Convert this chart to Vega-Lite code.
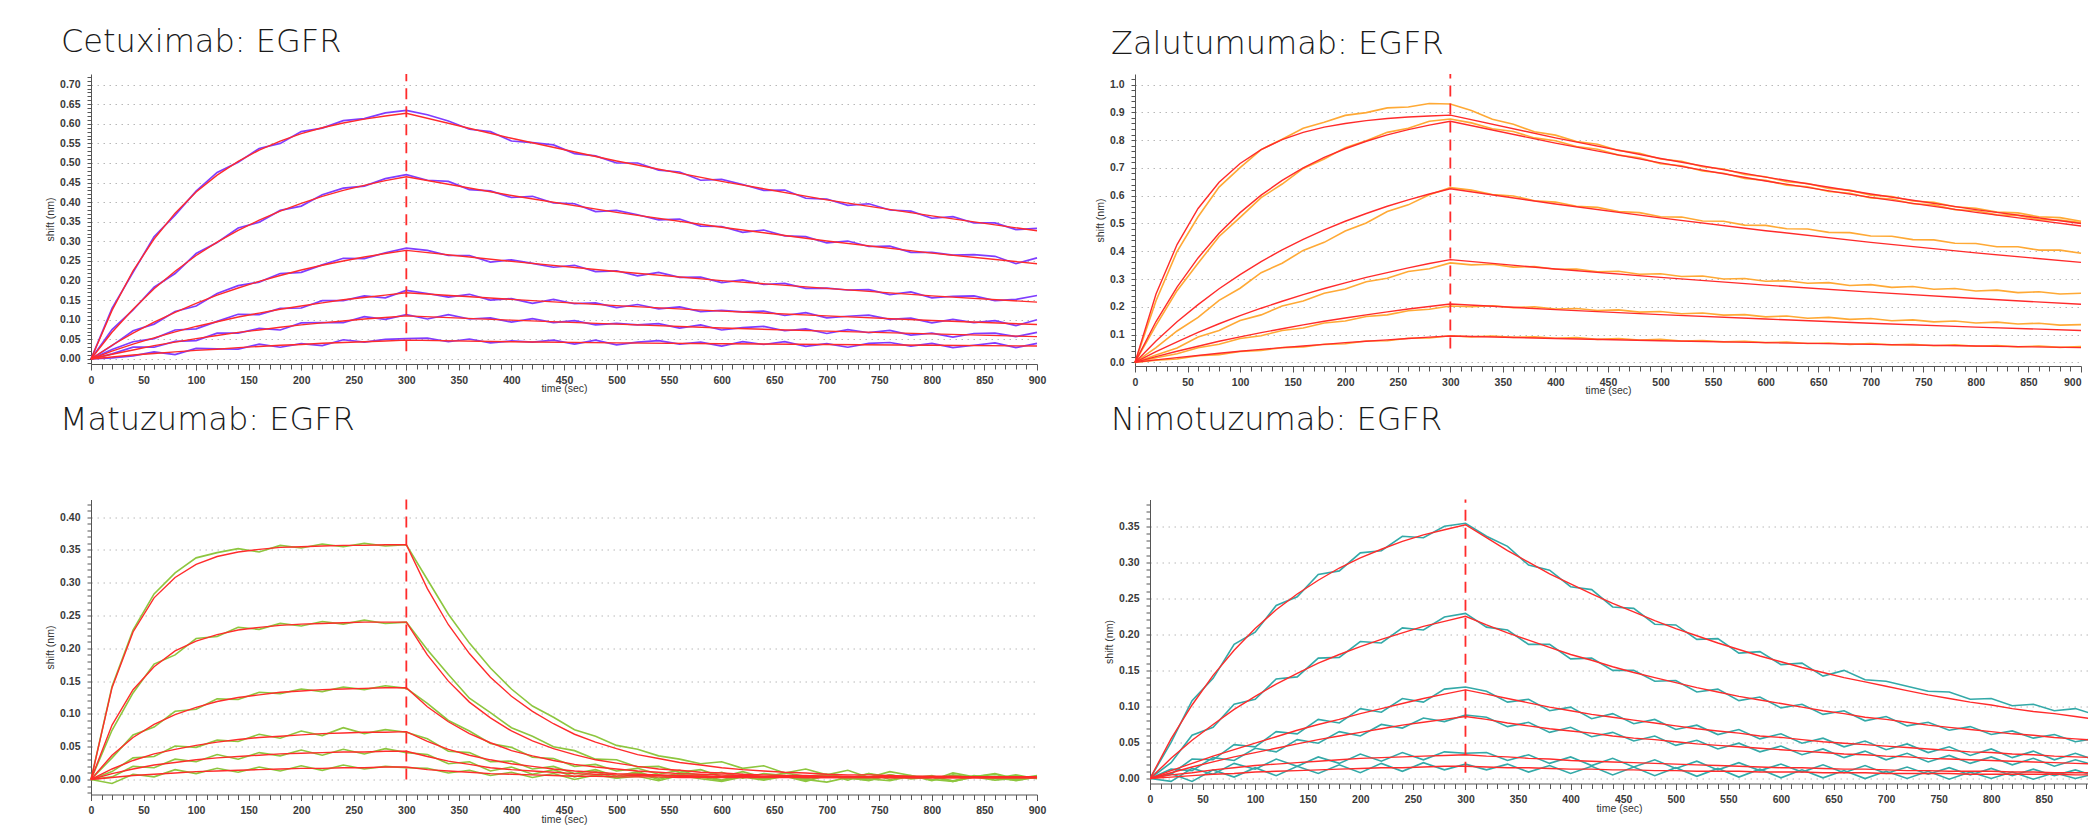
{
"$schema":"https://vega.github.io/schema/vega-lite/v6.json",
"background":"white",
"padding":{"left":45,"top":26,"right":0,"bottom":0},
"config":{
"view":{"stroke":null},
"axis":{"labelFont":"Liberation Sans","labelFontSize":10.5,"labelFontWeight":"bold","labelColor":"#3a3a3a","titleFont":"Liberation Sans","titleFontSize":10.5,"titleFontWeight":"normal","titleColor":"#333","domainColor":"#555","tickColor":"#555","gridColor":"#b8b8b8","gridDash":[1.5,4.5],"labelOverlap":false,"labelFlush":false},
"axisY":{"tickSize":4,"labelPadding":7,"titlePadding":4},
"axisX":{"labelPadding":5,"titlePadding":-2,"grid":false},
"title":{"font":"DejaVu Sans","fontSize":32,"fontWeight":200,"color":"#1a1a1a","anchor":"start","frame":"group","baseline":"alphabetic"}
},
"datasets":{
"c":[
{"s":1,"t":0,"y":0,"f":0},{"s":1,"t":20,"y":0.129,"f":0.124},{"s":1,"t":40,"y":0.221,"f":0.225},{"s":1,"t":60,"y":0.312,"f":0.306},{"s":1,"t":80,"y":0.367,"f":0.372},{"s":1,"t":100,"y":0.428,"f":0.426},{"s":1,"t":120,"y":0.476,"f":0.469},{"s":1,"t":140,"y":0.502,"f":0.504},{"s":1,"t":160,"y":0.537,"f":0.533},{"s":1,"t":180,"y":0.55,"f":0.556},{"s":1,"t":200,"y":0.58,"f":0.575},{"s":1,"t":220,"y":0.589,"f":0.59},{"s":1,"t":240,"y":0.608,"f":0.602},{"s":1,"t":260,"y":0.613,"f":0.612},{"s":1,"t":280,"y":0.628,"f":0.62},{"s":1,"t":300,"y":0.634,"f":0.627},{"s":1,"t":320,"y":0.623},{"s":1,"t":340,"y":0.607},{"s":1,"t":360,"y":0.586},{"s":1,"t":380,"y":0.58},{"s":1,"t":400,"y":0.556,"f":0.563},{"s":1,"t":420,"y":0.552},{"s":1,"t":440,"y":0.546},{"s":1,"t":460,"y":0.524},{"s":1,"t":480,"y":0.518},{"s":1,"t":500,"y":0.5,"f":0.505},{"s":1,"t":520,"y":0.5},{"s":1,"t":540,"y":0.482},{"s":1,"t":560,"y":0.477},{"s":1,"t":580,"y":0.456},{"s":1,"t":600,"y":0.458,"f":0.453},{"s":1,"t":620,"y":0.445},{"s":1,"t":640,"y":0.43},{"s":1,"t":660,"y":0.431},{"s":1,"t":680,"y":0.41},{"s":1,"t":700,"y":0.408,"f":0.406},{"s":1,"t":720,"y":0.392},{"s":1,"t":740,"y":0.396},{"s":1,"t":760,"y":0.38},{"s":1,"t":780,"y":0.377},{"s":1,"t":800,"y":0.359,"f":0.365},{"s":1,"t":820,"y":0.363},{"s":1,"t":840,"y":0.347},{"s":1,"t":860,"y":0.347},{"s":1,"t":880,"y":0.33},{"s":1,"t":900,"y":0.333,"f":0.327},
{"s":2,"t":0,"y":0,"f":0},{"s":2,"t":20,"y":0.075,"f":0.068},{"s":2,"t":40,"y":0.125,"f":0.127},{"s":2,"t":60,"y":0.183,"f":0.179},{"s":2,"t":80,"y":0.218,"f":0.224},{"s":2,"t":100,"y":0.269,"f":0.264},{"s":2,"t":120,"y":0.297,"f":0.298},{"s":2,"t":140,"y":0.334,"f":0.328},{"s":2,"t":160,"y":0.349,"f":0.354},{"s":2,"t":180,"y":0.379,"f":0.377},{"s":2,"t":200,"y":0.39,"f":0.397},{"s":2,"t":220,"y":0.419,"f":0.415},{"s":2,"t":240,"y":0.436,"f":0.43},{"s":2,"t":260,"y":0.441,"f":0.443},{"s":2,"t":280,"y":0.46,"f":0.455},{"s":2,"t":300,"y":0.47,"f":0.465},{"s":2,"t":320,"y":0.456},{"s":2,"t":340,"y":0.453},{"s":2,"t":360,"y":0.432},{"s":2,"t":380,"y":0.429},{"s":2,"t":400,"y":0.412,"f":0.417},{"s":2,"t":420,"y":0.415},{"s":2,"t":440,"y":0.398},{"s":2,"t":460,"y":0.396},{"s":2,"t":480,"y":0.376},{"s":2,"t":500,"y":0.379,"f":0.374},{"s":2,"t":520,"y":0.368},{"s":2,"t":540,"y":0.355},{"s":2,"t":560,"y":0.357},{"s":2,"t":580,"y":0.339},{"s":2,"t":600,"y":0.338,"f":0.336},{"s":2,"t":620,"y":0.323},{"s":2,"t":640,"y":0.329},{"s":2,"t":660,"y":0.314},{"s":2,"t":680,"y":0.312},{"s":2,"t":700,"y":0.296,"f":0.301},{"s":2,"t":720,"y":0.301},{"s":2,"t":740,"y":0.287},{"s":2,"t":760,"y":0.288},{"s":2,"t":780,"y":0.272},{"s":2,"t":800,"y":0.272,"f":0.27},{"s":2,"t":820,"y":0.265},{"s":2,"t":840,"y":0.266},{"s":2,"t":860,"y":0.262},{"s":2,"t":880,"y":0.243},{"s":2,"t":900,"y":0.258,"f":0.243},
{"s":3,"t":0,"y":0,"f":0},{"s":3,"t":20,"y":0.034,"f":0.035},{"s":3,"t":40,"y":0.072,"f":0.066},{"s":3,"t":60,"y":0.089,"f":0.094},{"s":3,"t":80,"y":0.121,"f":0.119},{"s":3,"t":100,"y":0.135,"f":0.142},{"s":3,"t":120,"y":0.167,"f":0.163},{"s":3,"t":140,"y":0.187,"f":0.181},{"s":3,"t":160,"y":0.196,"f":0.198},{"s":3,"t":180,"y":0.218,"f":0.213},{"s":3,"t":200,"y":0.221,"f":0.227},{"s":3,"t":220,"y":0.24,"f":0.239},{"s":3,"t":240,"y":0.257,"f":0.25},{"s":3,"t":260,"y":0.256,"f":0.26},{"s":3,"t":280,"y":0.271,"f":0.269},{"s":3,"t":300,"y":0.283,"f":0.277},{"s":3,"t":320,"y":0.277},{"s":3,"t":340,"y":0.264},{"s":3,"t":360,"y":0.264},{"s":3,"t":380,"y":0.247},{"s":3,"t":400,"y":0.253,"f":0.249},{"s":3,"t":420,"y":0.244},{"s":3,"t":440,"y":0.234},{"s":3,"t":460,"y":0.239},{"s":3,"t":480,"y":0.223},{"s":3,"t":500,"y":0.225,"f":0.223},{"s":3,"t":520,"y":0.212},{"s":3,"t":540,"y":0.221},{"s":3,"t":560,"y":0.208},{"s":3,"t":580,"y":0.209},{"s":3,"t":600,"y":0.195,"f":0.2},{"s":3,"t":620,"y":0.202},{"s":3,"t":640,"y":0.19},{"s":3,"t":660,"y":0.193},{"s":3,"t":680,"y":0.18},{"s":3,"t":700,"y":0.181,"f":0.18},{"s":3,"t":720,"y":0.176},{"s":3,"t":740,"y":0.177},{"s":3,"t":760,"y":0.164},{"s":3,"t":780,"y":0.171},{"s":3,"t":800,"y":0.156,"f":0.161},{"s":3,"t":820,"y":0.16},{"s":3,"t":840,"y":0.161},{"s":3,"t":860,"y":0.149},{"s":3,"t":880,"y":0.152},{"s":3,"t":900,"y":0.162,"f":0.145},
{"s":4,"t":0,"y":0,"f":0},{"s":4,"t":20,"y":0.024,"f":0.02},{"s":4,"t":40,"y":0.044,"f":0.038},{"s":4,"t":60,"y":0.052,"f":0.054},{"s":4,"t":80,"y":0.074,"f":0.069},{"s":4,"t":100,"y":0.077,"f":0.083},{"s":4,"t":120,"y":0.096,"f":0.095},{"s":4,"t":140,"y":0.114,"f":0.107},{"s":4,"t":160,"y":0.113,"f":0.117},{"s":4,"t":180,"y":0.129,"f":0.127},{"s":4,"t":200,"y":0.13,"f":0.135},{"s":4,"t":220,"y":0.149,"f":0.143},{"s":4,"t":240,"y":0.149,"f":0.151},{"s":4,"t":260,"y":0.161,"f":0.157},{"s":4,"t":280,"y":0.156,"f":0.163},{"s":4,"t":300,"y":0.175,"f":0.169},{"s":4,"t":320,"y":0.167},{"s":4,"t":340,"y":0.158},{"s":4,"t":360,"y":0.165},{"s":4,"t":380,"y":0.15},{"s":4,"t":400,"y":0.154,"f":0.152},{"s":4,"t":420,"y":0.142},{"s":4,"t":440,"y":0.152},{"s":4,"t":460,"y":0.141},{"s":4,"t":480,"y":0.143},{"s":4,"t":500,"y":0.131,"f":0.136},{"s":4,"t":520,"y":0.139},{"s":4,"t":540,"y":0.128},{"s":4,"t":560,"y":0.133},{"s":4,"t":580,"y":0.121},{"s":4,"t":600,"y":0.124,"f":0.122},{"s":4,"t":620,"y":0.12},{"s":4,"t":640,"y":0.122},{"s":4,"t":660,"y":0.111},{"s":4,"t":680,"y":0.118},{"s":4,"t":700,"y":0.105,"f":0.11},{"s":4,"t":720,"y":0.109},{"s":4,"t":740,"y":0.112},{"s":4,"t":760,"y":0.101},{"s":4,"t":780,"y":0.104},{"s":4,"t":800,"y":0.092,"f":0.098},{"s":4,"t":820,"y":0.101},{"s":4,"t":840,"y":0.093},{"s":4,"t":860,"y":0.098},{"s":4,"t":880,"y":0.085},{"s":4,"t":900,"y":0.1,"f":0.088},
{"s":5,"t":0,"y":0,"f":0},{"s":5,"t":20,"y":0.013,"f":0.012},{"s":5,"t":40,"y":0.03,"f":0.023},{"s":5,"t":60,"y":0.03,"f":0.034},{"s":5,"t":80,"y":0.045,"f":0.043},{"s":5,"t":100,"y":0.047,"f":0.052},{"s":5,"t":120,"y":0.066,"f":0.06},{"s":5,"t":140,"y":0.066,"f":0.068},{"s":5,"t":160,"y":0.078,"f":0.074},{"s":5,"t":180,"y":0.074,"f":0.081},{"s":5,"t":200,"y":0.092,"f":0.087},{"s":5,"t":220,"y":0.093,"f":0.092},{"s":5,"t":240,"y":0.093,"f":0.097},{"s":5,"t":260,"y":0.108,"f":0.102},{"s":5,"t":280,"y":0.101,"f":0.106},{"s":5,"t":300,"y":0.113,"f":0.11},{"s":5,"t":320,"y":0.102},{"s":5,"t":340,"y":0.113},{"s":5,"t":360,"y":0.102},{"s":5,"t":380,"y":0.105},{"s":5,"t":400,"y":0.094,"f":0.099},{"s":5,"t":420,"y":0.103},{"s":5,"t":440,"y":0.093},{"s":5,"t":460,"y":0.098},{"s":5,"t":480,"y":0.087},{"s":5,"t":500,"y":0.091,"f":0.089},{"s":5,"t":520,"y":0.087},{"s":5,"t":540,"y":0.09},{"s":5,"t":560,"y":0.079},{"s":5,"t":580,"y":0.087},{"s":5,"t":600,"y":0.074,"f":0.079},{"s":5,"t":620,"y":0.08},{"s":5,"t":640,"y":0.083},{"s":5,"t":660,"y":0.072},{"s":5,"t":680,"y":0.077},{"s":5,"t":700,"y":0.065,"f":0.071},{"s":5,"t":720,"y":0.075},{"s":5,"t":740,"y":0.067},{"s":5,"t":760,"y":0.073},{"s":5,"t":780,"y":0.061},{"s":5,"t":800,"y":0.066,"f":0.064},{"s":5,"t":820,"y":0.056},{"s":5,"t":840,"y":0.065},{"s":5,"t":860,"y":0.066},{"s":5,"t":880,"y":0.057},{"s":5,"t":900,"y":0.068,"f":0.057},
{"s":6,"t":0,"y":0,"f":0},{"s":6,"t":20,"y":0.003,"f":0.005},{"s":6,"t":40,"y":0.008,"f":0.01},{"s":6,"t":60,"y":0.018,"f":0.014},{"s":6,"t":80,"y":0.011,"f":0.018},{"s":6,"t":100,"y":0.027,"f":0.022},{"s":6,"t":120,"y":0.026,"f":0.025},{"s":6,"t":140,"y":0.025,"f":0.029},{"s":6,"t":160,"y":0.038,"f":0.032},{"s":6,"t":180,"y":0.03,"f":0.035},{"s":6,"t":200,"y":0.039,"f":0.037},{"s":6,"t":220,"y":0.034,"f":0.04},{"s":6,"t":240,"y":0.049,"f":0.042},{"s":6,"t":260,"y":0.043,"f":0.044},{"s":6,"t":280,"y":0.05,"f":0.046},{"s":6,"t":300,"y":0.052,"f":0.048},{"s":6,"t":320,"y":0.053},{"s":6,"t":340,"y":0.044},{"s":6,"t":360,"y":0.051},{"s":6,"t":380,"y":0.041},{"s":6,"t":400,"y":0.046,"f":0.044},{"s":6,"t":420,"y":0.043},{"s":6,"t":440,"y":0.048},{"s":6,"t":460,"y":0.038},{"s":6,"t":480,"y":0.048},{"s":6,"t":500,"y":0.036,"f":0.041},{"s":6,"t":520,"y":0.043},{"s":6,"t":540,"y":0.047},{"s":6,"t":560,"y":0.038},{"s":6,"t":580,"y":0.043},{"s":6,"t":600,"y":0.033,"f":0.039},{"s":6,"t":620,"y":0.044},{"s":6,"t":640,"y":0.037},{"s":6,"t":660,"y":0.044},{"s":6,"t":680,"y":0.032},{"s":6,"t":700,"y":0.039,"f":0.037},{"s":6,"t":720,"y":0.03},{"s":6,"t":740,"y":0.04},{"s":6,"t":760,"y":0.042},{"s":6,"t":780,"y":0.033},{"s":6,"t":800,"y":0.04,"f":0.035},{"s":6,"t":820,"y":0.029},{"s":6,"t":840,"y":0.035},{"s":6,"t":860,"y":0.041},{"s":6,"t":880,"y":0.029},{"s":6,"t":900,"y":0.04,"f":0.033}
],
"z":[
{"s":1,"t":0,"y":0,"f":0},{"s":1,"t":20,"y":0.222,"f":0.246},{"s":1,"t":40,"y":0.399,"f":0.424},{"s":1,"t":60,"y":0.524,"f":0.554},{"s":1,"t":80,"y":0.631,"f":0.648},{"s":1,"t":100,"y":0.701,"f":0.716},{"s":1,"t":120,"y":0.766,"f":0.766},{"s":1,"t":140,"y":0.803,"f":0.802},{"s":1,"t":160,"y":0.843,"f":0.828},{"s":1,"t":180,"y":0.864,"f":0.847},{"s":1,"t":200,"y":0.889,"f":0.86},{"s":1,"t":220,"y":0.899,"f":0.87},{"s":1,"t":240,"y":0.916,"f":0.878},{"s":1,"t":260,"y":0.919,"f":0.883},{"s":1,"t":280,"y":0.932,"f":0.887},{"s":1,"t":300,"y":0.93,"f":0.89},{"s":1,"t":320,"y":0.907},{"s":1,"t":340,"y":0.875},{"s":1,"t":360,"y":0.857},{"s":1,"t":380,"y":0.83},{"s":1,"t":400,"y":0.818,"f":0.808},{"s":1,"t":420,"y":0.795},{"s":1,"t":440,"y":0.785},{"s":1,"t":460,"y":0.763},{"s":1,"t":480,"y":0.753},{"s":1,"t":500,"y":0.732,"f":0.734},{"s":1,"t":520,"y":0.724},{"s":1,"t":540,"y":0.704},{"s":1,"t":560,"y":0.696},{"s":1,"t":580,"y":0.676},{"s":1,"t":600,"y":0.668,"f":0.667},{"s":1,"t":620,"y":0.65},{"s":1,"t":640,"y":0.644},{"s":1,"t":660,"y":0.626},{"s":1,"t":680,"y":0.62},{"s":1,"t":700,"y":0.602,"f":0.606},{"s":1,"t":720,"y":0.597},{"s":1,"t":740,"y":0.581},{"s":1,"t":760,"y":0.576},{"s":1,"t":780,"y":0.56},{"s":1,"t":800,"y":0.555,"f":0.55},{"s":1,"t":820,"y":0.541},{"s":1,"t":840,"y":0.538},{"s":1,"t":860,"y":0.524},{"s":1,"t":880,"y":0.521},{"s":1,"t":900,"y":0.508,"f":0.5},
{"s":2,"t":0,"y":0,"f":0},{"s":2,"t":20,"y":0.133,"f":0.147},{"s":2,"t":40,"y":0.258,"f":0.271},{"s":2,"t":60,"y":0.357,"f":0.376},{"s":2,"t":80,"y":0.453,"f":0.465},{"s":2,"t":100,"y":0.522,"f":0.539},{"s":2,"t":120,"y":0.593,"f":0.602},{"s":2,"t":140,"y":0.642,"f":0.655},{"s":2,"t":160,"y":0.698,"f":0.7},{"s":2,"t":180,"y":0.732,"f":0.738},{"s":2,"t":200,"y":0.773,"f":0.769},{"s":2,"t":220,"y":0.798,"f":0.796},{"s":2,"t":240,"y":0.828,"f":0.819},{"s":2,"t":260,"y":0.843,"f":0.838},{"s":2,"t":280,"y":0.868,"f":0.854},{"s":2,"t":300,"y":0.876,"f":0.868},{"s":2,"t":320,"y":0.862},{"s":2,"t":340,"y":0.841},{"s":2,"t":360,"y":0.831},{"s":2,"t":380,"y":0.808},{"s":2,"t":400,"y":0.798,"f":0.789},{"s":2,"t":420,"y":0.777},{"s":2,"t":440,"y":0.767},{"s":2,"t":460,"y":0.746},{"s":2,"t":480,"y":0.736},{"s":2,"t":500,"y":0.715,"f":0.718},{"s":2,"t":520,"y":0.708},{"s":2,"t":540,"y":0.689},{"s":2,"t":560,"y":0.681},{"s":2,"t":580,"y":0.662},{"s":2,"t":600,"y":0.655,"f":0.653},{"s":2,"t":620,"y":0.638},{"s":2,"t":640,"y":0.632},{"s":2,"t":660,"y":0.615},{"s":2,"t":680,"y":0.609},{"s":2,"t":700,"y":0.592,"f":0.594},{"s":2,"t":720,"y":0.588},{"s":2,"t":740,"y":0.571},{"s":2,"t":760,"y":0.567},{"s":2,"t":780,"y":0.55},{"s":2,"t":800,"y":0.546,"f":0.54},{"s":2,"t":820,"y":0.531},{"s":2,"t":840,"y":0.529},{"s":2,"t":860,"y":0.514},{"s":2,"t":880,"y":0.512},{"s":2,"t":900,"y":0.503,"f":0.491},
{"s":3,"t":0,"y":0,"f":0},{"s":3,"t":20,"y":0.053,"f":0.077},{"s":3,"t":40,"y":0.113,"f":0.146},{"s":3,"t":60,"y":0.162,"f":0.208},{"s":3,"t":80,"y":0.223,"f":0.265},{"s":3,"t":100,"y":0.267,"f":0.316},{"s":3,"t":120,"y":0.323,"f":0.363},{"s":3,"t":140,"y":0.357,"f":0.405},{"s":3,"t":160,"y":0.403,"f":0.443},{"s":3,"t":180,"y":0.432,"f":0.477},{"s":3,"t":200,"y":0.473,"f":0.508},{"s":3,"t":220,"y":0.502,"f":0.536},{"s":3,"t":240,"y":0.543,"f":0.562},{"s":3,"t":260,"y":0.567,"f":0.585},{"s":3,"t":280,"y":0.603,"f":0.606},{"s":3,"t":300,"y":0.629,"f":0.625},{"s":3,"t":320,"y":0.62},{"s":3,"t":340,"y":0.604},{"s":3,"t":360,"y":0.599},{"s":3,"t":380,"y":0.582},{"s":3,"t":400,"y":0.577,"f":0.57},{"s":3,"t":420,"y":0.562},{"s":3,"t":440,"y":0.558},{"s":3,"t":460,"y":0.543},{"s":3,"t":480,"y":0.539},{"s":3,"t":500,"y":0.524,"f":0.52},{"s":3,"t":520,"y":0.523},{"s":3,"t":540,"y":0.509},{"s":3,"t":560,"y":0.508},{"s":3,"t":580,"y":0.494},{"s":3,"t":600,"y":0.493,"f":0.474},{"s":3,"t":620,"y":0.481},{"s":3,"t":640,"y":0.48},{"s":3,"t":660,"y":0.468},{"s":3,"t":680,"y":0.467},{"s":3,"t":700,"y":0.455,"f":0.432},{"s":3,"t":720,"y":0.454},{"s":3,"t":740,"y":0.442},{"s":3,"t":760,"y":0.441},{"s":3,"t":780,"y":0.429},{"s":3,"t":800,"y":0.428,"f":0.394},{"s":3,"t":820,"y":0.416},{"s":3,"t":840,"y":0.416},{"s":3,"t":860,"y":0.404},{"s":3,"t":880,"y":0.404},{"s":3,"t":900,"y":0.393,"f":0.36},
{"s":4,"t":0,"y":0,"f":0},{"s":4,"t":20,"y":0.027,"f":0.039},{"s":4,"t":40,"y":0.052,"f":0.074},{"s":4,"t":60,"y":0.091,"f":0.108},{"s":4,"t":80,"y":0.115,"f":0.139},{"s":4,"t":100,"y":0.151,"f":0.168},{"s":4,"t":120,"y":0.171,"f":0.195},{"s":4,"t":140,"y":0.203,"f":0.22},{"s":4,"t":160,"y":0.221,"f":0.244},{"s":4,"t":180,"y":0.249,"f":0.266},{"s":4,"t":200,"y":0.264,"f":0.286},{"s":4,"t":220,"y":0.29,"f":0.306},{"s":4,"t":240,"y":0.303,"f":0.323},{"s":4,"t":260,"y":0.327,"f":0.34},{"s":4,"t":280,"y":0.337,"f":0.356},{"s":4,"t":300,"y":0.358,"f":0.37},{"s":4,"t":320,"y":0.351},{"s":4,"t":340,"y":0.353},{"s":4,"t":360,"y":0.343},{"s":4,"t":380,"y":0.345},{"s":4,"t":400,"y":0.335,"f":0.336},{"s":4,"t":420,"y":0.336},{"s":4,"t":440,"y":0.326},{"s":4,"t":460,"y":0.328},{"s":4,"t":480,"y":0.317},{"s":4,"t":500,"y":0.319,"f":0.306},{"s":4,"t":520,"y":0.309},{"s":4,"t":540,"y":0.311},{"s":4,"t":560,"y":0.3},{"s":4,"t":580,"y":0.302},{"s":4,"t":600,"y":0.292,"f":0.278},{"s":4,"t":620,"y":0.294},{"s":4,"t":640,"y":0.285},{"s":4,"t":660,"y":0.287},{"s":4,"t":680,"y":0.277},{"s":4,"t":700,"y":0.28,"f":0.253},{"s":4,"t":720,"y":0.27},{"s":4,"t":740,"y":0.273},{"s":4,"t":760,"y":0.263},{"s":4,"t":780,"y":0.266},{"s":4,"t":800,"y":0.257,"f":0.23},{"s":4,"t":820,"y":0.26},{"s":4,"t":840,"y":0.251},{"s":4,"t":860,"y":0.254},{"s":4,"t":880,"y":0.246},{"s":4,"t":900,"y":0.249,"f":0.209},
{"s":5,"t":0,"y":0,"f":0},{"s":5,"t":20,"y":0.017,"f":0.021},{"s":5,"t":40,"y":0.031,"f":0.04},{"s":5,"t":60,"y":0.053,"f":0.058},{"s":5,"t":80,"y":0.065,"f":0.076},{"s":5,"t":100,"y":0.086,"f":0.092},{"s":5,"t":120,"y":0.096,"f":0.107},{"s":5,"t":140,"y":0.115,"f":0.121},{"s":5,"t":160,"y":0.124,"f":0.135},{"s":5,"t":180,"y":0.142,"f":0.148},{"s":5,"t":200,"y":0.149,"f":0.16},{"s":5,"t":220,"y":0.165,"f":0.171},{"s":5,"t":240,"y":0.171,"f":0.182},{"s":5,"t":260,"y":0.186,"f":0.192},{"s":5,"t":280,"y":0.191,"f":0.201},{"s":5,"t":300,"y":0.203,"f":0.21},{"s":5,"t":320,"y":0.2},{"s":5,"t":340,"y":0.204},{"s":5,"t":360,"y":0.197},{"s":5,"t":380,"y":0.2},{"s":5,"t":400,"y":0.192,"f":0.19},{"s":5,"t":420,"y":0.194},{"s":5,"t":440,"y":0.187},{"s":5,"t":460,"y":0.189},{"s":5,"t":480,"y":0.181},{"s":5,"t":500,"y":0.183,"f":0.172},{"s":5,"t":520,"y":0.175},{"s":5,"t":540,"y":0.178},{"s":5,"t":560,"y":0.17},{"s":5,"t":580,"y":0.172},{"s":5,"t":600,"y":0.164,"f":0.156},{"s":5,"t":620,"y":0.167},{"s":5,"t":640,"y":0.159},{"s":5,"t":660,"y":0.162},{"s":5,"t":680,"y":0.155},{"s":5,"t":700,"y":0.158,"f":0.141},{"s":5,"t":720,"y":0.15},{"s":5,"t":740,"y":0.153},{"s":5,"t":760,"y":0.146},{"s":5,"t":780,"y":0.149},{"s":5,"t":800,"y":0.142,"f":0.127},{"s":5,"t":820,"y":0.145},{"s":5,"t":840,"y":0.138},{"s":5,"t":860,"y":0.141},{"s":5,"t":880,"y":0.134},{"s":5,"t":900,"y":0.136,"f":0.115},
{"s":6,"t":0,"y":0,"f":0},{"s":6,"t":20,"y":0.008,"f":0.009},{"s":6,"t":40,"y":0.012,"f":0.017},{"s":6,"t":60,"y":0.024,"f":0.025},{"s":6,"t":80,"y":0.028,"f":0.033},{"s":6,"t":100,"y":0.039,"f":0.04},{"s":6,"t":120,"y":0.043,"f":0.047},{"s":6,"t":140,"y":0.053,"f":0.053},{"s":6,"t":160,"y":0.056,"f":0.059},{"s":6,"t":180,"y":0.065,"f":0.065},{"s":6,"t":200,"y":0.067,"f":0.071},{"s":6,"t":220,"y":0.077,"f":0.076},{"s":6,"t":240,"y":0.078,"f":0.081},{"s":6,"t":260,"y":0.087,"f":0.086},{"s":6,"t":280,"y":0.088,"f":0.091},{"s":6,"t":300,"y":0.096,"f":0.095},{"s":6,"t":320,"y":0.092},{"s":6,"t":340,"y":0.095},{"s":6,"t":360,"y":0.09},{"s":6,"t":380,"y":0.092},{"s":6,"t":400,"y":0.087,"f":0.086},{"s":6,"t":420,"y":0.089},{"s":6,"t":440,"y":0.083},{"s":6,"t":460,"y":0.086},{"s":6,"t":480,"y":0.08},{"s":6,"t":500,"y":0.083,"f":0.078},{"s":6,"t":520,"y":0.077},{"s":6,"t":540,"y":0.079},{"s":6,"t":560,"y":0.074},{"s":6,"t":580,"y":0.076},{"s":6,"t":600,"y":0.071,"f":0.071},{"s":6,"t":620,"y":0.073},{"s":6,"t":640,"y":0.068},{"s":6,"t":660,"y":0.07},{"s":6,"t":680,"y":0.065},{"s":6,"t":700,"y":0.068,"f":0.065},{"s":6,"t":720,"y":0.063},{"s":6,"t":740,"y":0.065},{"s":6,"t":760,"y":0.06},{"s":6,"t":780,"y":0.063},{"s":6,"t":800,"y":0.058,"f":0.059},{"s":6,"t":820,"y":0.061},{"s":6,"t":840,"y":0.056},{"s":6,"t":860,"y":0.059},{"s":6,"t":880,"y":0.054},{"s":6,"t":900,"y":0.057,"f":0.053}
],
"m":[
{"s":1,"t":0,"y":0,"f":0},{"s":1,"t":20,"y":0.142,"f":0.14},{"s":1,"t":40,"y":0.228,"f":0.225},{"s":1,"t":60,"y":0.283,"f":0.277},{"s":1,"t":80,"y":0.315,"f":0.308},{"s":1,"t":100,"y":0.338,"f":0.328},{"s":1,"t":120,"y":0.346,"f":0.34},{"s":1,"t":140,"y":0.352,"f":0.347},{"s":1,"t":160,"y":0.347,"f":0.351},{"s":1,"t":180,"y":0.357,"f":0.354},{"s":1,"t":200,"y":0.353,"f":0.355},{"s":1,"t":220,"y":0.359,"f":0.356},{"s":1,"t":240,"y":0.355,"f":0.357},{"s":1,"t":260,"y":0.36,"f":0.357},{"s":1,"t":280,"y":0.356,"f":0.358},{"s":1,"t":300,"y":0.358,"f":0.358},{"s":1,"t":320,"y":0.305,"f":0.291},{"s":1,"t":340,"y":0.252,"f":0.236},{"s":1,"t":360,"y":0.208,"f":0.192},{"s":1,"t":380,"y":0.17,"f":0.156},{"s":1,"t":400,"y":0.138,"f":0.127},{"s":1,"t":420,"y":0.112,"f":0.104},{"s":1,"t":440,"y":0.095,"f":0.085},{"s":1,"t":460,"y":0.076,"f":0.069},{"s":1,"t":480,"y":0.066,"f":0.057},{"s":1,"t":500,"y":0.052,"f":0.047},{"s":1,"t":520,"y":0.046,"f":0.038},{"s":1,"t":540,"y":0.036,"f":0.032},{"s":1,"t":560,"y":0.031,"f":0.026},{"s":1,"t":580,"y":0.024,"f":0.022},{"s":1,"t":600,"y":0.027,"f":0.018},{"s":1,"t":620,"y":0.017,"f":0.015},{"s":1,"t":640,"y":0.021,"f":0.013},{"s":1,"t":660,"y":0.01,"f":0.011},{"s":1,"t":680,"y":0.016,"f":0.01},{"s":1,"t":700,"y":0.007,"f":0.008},{"s":1,"t":720,"y":0.014,"f":0.007},{"s":1,"t":740,"y":0.003,"f":0.007},{"s":1,"t":760,"y":0.012,"f":0.006},{"s":1,"t":780,"y":0.006,"f":0.005},{"s":1,"t":800,"y":-0.001,"f":0.005},{"s":1,"t":820,"y":0.01,"f":0.005},{"s":1,"t":840,"y":0.004,"f":0.004},{"s":1,"t":860,"y":0.009,"f":0.004},{"s":1,"t":880,"y":0.001,"f":0.004},{"s":1,"t":900,"y":0.006,"f":0.004},
{"s":2,"t":0,"y":0,"f":0},{"s":2,"t":20,"y":0.075,"f":0.083},{"s":2,"t":40,"y":0.132,"f":0.137},{"s":2,"t":60,"y":0.176,"f":0.172},{"s":2,"t":80,"y":0.19,"f":0.196},{"s":2,"t":100,"y":0.215,"f":0.211},{"s":2,"t":120,"y":0.218,"f":0.221},{"s":2,"t":140,"y":0.232,"f":0.228},{"s":2,"t":160,"y":0.229,"f":0.232},{"s":2,"t":180,"y":0.238,"f":0.235},{"s":2,"t":200,"y":0.234,"f":0.237},{"s":2,"t":220,"y":0.241,"f":0.238},{"s":2,"t":240,"y":0.237,"f":0.239},{"s":2,"t":260,"y":0.243,"f":0.24},{"s":2,"t":280,"y":0.238,"f":0.24},{"s":2,"t":300,"y":0.24,"f":0.24},{"s":2,"t":320,"y":0.198,"f":0.19},{"s":2,"t":340,"y":0.16,"f":0.15},{"s":2,"t":360,"y":0.124,"f":0.118},{"s":2,"t":380,"y":0.102,"f":0.094},{"s":2,"t":400,"y":0.079,"f":0.074},{"s":2,"t":420,"y":0.066,"f":0.059},{"s":2,"t":440,"y":0.05,"f":0.047},{"s":2,"t":460,"y":0.044,"f":0.038},{"s":2,"t":480,"y":0.031,"f":0.03},{"s":2,"t":500,"y":0.03,"f":0.025},{"s":2,"t":520,"y":0.019,"f":0.02},{"s":2,"t":540,"y":0.02,"f":0.016},{"s":2,"t":560,"y":0.011,"f":0.014},{"s":2,"t":580,"y":0.015,"f":0.011},{"s":2,"t":600,"y":0.004,"f":0.01},{"s":2,"t":620,"y":0.012,"f":0.008},{"s":2,"t":640,"y":0.003,"f":0.007},{"s":2,"t":660,"y":0.01,"f":0.006},{"s":2,"t":680,"y":0.005,"f":0.006},{"s":2,"t":700,"y":0.008,"f":0.005},{"s":2,"t":720,"y":-0.001,"f":0.005},{"s":2,"t":740,"y":0.009,"f":0.004},{"s":2,"t":760,"y":0.004,"f":0.004},{"s":2,"t":780,"y":0.006,"f":0.004},{"s":2,"t":800,"y":-0.002,"f":0.004},{"s":2,"t":820,"y":0.007,"f":0.004},{"s":2,"t":840,"y":0.003,"f":0.004},{"s":2,"t":860,"y":0.005,"f":0.004},{"s":2,"t":880,"y":-0.002,"f":0.004},{"s":2,"t":900,"y":0.004,"f":0.004},
{"s":3,"t":0,"y":0,"f":0},{"s":3,"t":20,"y":0.033,"f":0.037},{"s":3,"t":40,"y":0.068,"f":0.064},{"s":3,"t":60,"y":0.08,"f":0.084},{"s":3,"t":80,"y":0.104,"f":0.099},{"s":3,"t":100,"y":0.107,"f":0.11},{"s":3,"t":120,"y":0.123,"f":0.119},{"s":3,"t":140,"y":0.122,"f":0.125},{"s":3,"t":160,"y":0.133,"f":0.129},{"s":3,"t":180,"y":0.131,"f":0.133},{"s":3,"t":200,"y":0.138,"f":0.135},{"s":3,"t":220,"y":0.134,"f":0.137},{"s":3,"t":240,"y":0.141,"f":0.138},{"s":3,"t":260,"y":0.137,"f":0.139},{"s":3,"t":280,"y":0.143,"f":0.14},{"s":3,"t":300,"y":0.139,"f":0.14},{"s":3,"t":320,"y":0.116,"f":0.111},{"s":3,"t":340,"y":0.09,"f":0.088},{"s":3,"t":360,"y":0.074,"f":0.07},{"s":3,"t":380,"y":0.055,"f":0.056},{"s":3,"t":400,"y":0.049,"f":0.044},{"s":3,"t":420,"y":0.034,"f":0.036},{"s":3,"t":440,"y":0.032,"f":0.029},{"s":3,"t":460,"y":0.02,"f":0.023},{"s":3,"t":480,"y":0.023,"f":0.019},{"s":3,"t":500,"y":0.013,"f":0.016},{"s":3,"t":520,"y":0.017,"f":0.013},{"s":3,"t":540,"y":0.008,"f":0.011},{"s":3,"t":560,"y":0.014,"f":0.009},{"s":3,"t":580,"y":0.005,"f":0.008},{"s":3,"t":600,"y":0.011,"f":0.007},{"s":3,"t":620,"y":0.002,"f":0.006},{"s":3,"t":640,"y":0.009,"f":0.005},{"s":3,"t":660,"y":0.006,"f":0.005},{"s":3,"t":680,"y":0.001,"f":0.004},{"s":3,"t":700,"y":0.008,"f":0.004},{"s":3,"t":720,"y":0.003,"f":0.004},{"s":3,"t":740,"y":-0.002,"f":0.004},{"s":3,"t":760,"y":0.007,"f":0.004},{"s":3,"t":780,"y":0.002,"f":0.003},{"s":3,"t":800,"y":0.006,"f":0.003},{"s":3,"t":820,"y":-0.003,"f":0.003},{"s":3,"t":840,"y":0.004,"f":0.003},{"s":3,"t":860,"y":0.008,"f":0.003},{"s":3,"t":880,"y":0,"f":0.003},{"s":3,"t":900,"y":0.005,"f":0.003},
{"s":4,"t":0,"y":0,"f":0},{"s":4,"t":20,"y":0.012,"f":0.016},{"s":4,"t":40,"y":0.033,"f":0.029},{"s":4,"t":60,"y":0.035,"f":0.039},{"s":4,"t":80,"y":0.051,"f":0.046},{"s":4,"t":100,"y":0.049,"f":0.052},{"s":4,"t":120,"y":0.06,"f":0.057},{"s":4,"t":140,"y":0.058,"f":0.061},{"s":4,"t":160,"y":0.069,"f":0.064},{"s":4,"t":180,"y":0.063,"f":0.066},{"s":4,"t":200,"y":0.074,"f":0.068},{"s":4,"t":220,"y":0.067,"f":0.07},{"s":4,"t":240,"y":0.079,"f":0.071},{"s":4,"t":260,"y":0.07,"f":0.072},{"s":4,"t":280,"y":0.076,"f":0.072},{"s":4,"t":300,"y":0.072,"f":0.073},{"s":4,"t":320,"y":0.062,"f":0.058},{"s":4,"t":340,"y":0.043,"f":0.046},{"s":4,"t":360,"y":0.041,"f":0.037},{"s":4,"t":380,"y":0.027,"f":0.03},{"s":4,"t":400,"y":0.028,"f":0.024},{"s":4,"t":420,"y":0.016,"f":0.02},{"s":4,"t":440,"y":0.02,"f":0.016},{"s":4,"t":460,"y":0.009,"f":0.013},{"s":4,"t":480,"y":0.015,"f":0.011},{"s":4,"t":500,"y":0.005,"f":0.009},{"s":4,"t":520,"y":0.012,"f":0.008},{"s":4,"t":540,"y":0.002,"f":0.007},{"s":4,"t":560,"y":0.01,"f":0.006},{"s":4,"t":580,"y":0.007,"f":0.005},{"s":4,"t":600,"y":-0.001,"f":0.005},{"s":4,"t":620,"y":0.008,"f":0.005},{"s":4,"t":640,"y":0.003,"f":0.004},{"s":4,"t":660,"y":0.006,"f":0.004},{"s":4,"t":680,"y":-0.002,"f":0.004},{"s":4,"t":700,"y":0.007,"f":0.004},{"s":4,"t":720,"y":0.002,"f":0.004},{"s":4,"t":740,"y":0.009,"f":0.004},{"s":4,"t":760,"y":0,"f":0.003},{"s":4,"t":780,"y":0.005,"f":0.003},{"s":4,"t":800,"y":0.004,"f":0.003},{"s":4,"t":820,"y":-0.003,"f":0.003},{"s":4,"t":840,"y":0.006,"f":0.003},{"s":4,"t":860,"y":0.002,"f":0.003},{"s":4,"t":880,"y":0.007,"f":0.003},{"s":4,"t":900,"y":0.001,"f":0.003},
{"s":5,"t":0,"y":0,"f":0},{"s":5,"t":20,"y":0.004,"f":0.009},{"s":5,"t":40,"y":0.02,"f":0.016},{"s":5,"t":60,"y":0.018,"f":0.022},{"s":5,"t":80,"y":0.031,"f":0.026},{"s":5,"t":100,"y":0.027,"f":0.03},{"s":5,"t":120,"y":0.038,"f":0.033},{"s":5,"t":140,"y":0.031,"f":0.035},{"s":5,"t":160,"y":0.041,"f":0.037},{"s":5,"t":180,"y":0.036,"f":0.039},{"s":5,"t":200,"y":0.045,"f":0.04},{"s":5,"t":220,"y":0.037,"f":0.041},{"s":5,"t":240,"y":0.046,"f":0.042},{"s":5,"t":260,"y":0.039,"f":0.042},{"s":5,"t":280,"y":0.047,"f":0.043},{"s":5,"t":300,"y":0.041,"f":0.043},{"s":5,"t":320,"y":0.038,"f":0.035},{"s":5,"t":340,"y":0.024,"f":0.028},{"s":5,"t":360,"y":0.027,"f":0.023},{"s":5,"t":380,"y":0.013,"f":0.018},{"s":5,"t":400,"y":0.019,"f":0.015},{"s":5,"t":420,"y":0.008,"f":0.013},{"s":5,"t":440,"y":0.015,"f":0.011},{"s":5,"t":460,"y":0.004,"f":0.009},{"s":5,"t":480,"y":0.012,"f":0.008},{"s":5,"t":500,"y":0.002,"f":0.007},{"s":5,"t":520,"y":0.01,"f":0.006},{"s":5,"t":540,"y":0,"f":0.006},{"s":5,"t":560,"y":0.008,"f":0.005},{"s":5,"t":580,"y":0.004,"f":0.005},{"s":5,"t":600,"y":-0.002,"f":0.004},{"s":5,"t":620,"y":0.006,"f":0.004},{"s":5,"t":640,"y":0.001,"f":0.004},{"s":5,"t":660,"y":0.005,"f":0.004},{"s":5,"t":680,"y":-0.003,"f":0.003},{"s":5,"t":700,"y":0.006,"f":0.003},{"s":5,"t":720,"y":0.002,"f":0.003},{"s":5,"t":740,"y":-0.001,"f":0.003},{"s":5,"t":760,"y":0.007,"f":0.003},{"s":5,"t":780,"y":0.001,"f":0.003},{"s":5,"t":800,"y":0.004,"f":0.003},{"s":5,"t":820,"y":-0.002,"f":0.003},{"s":5,"t":840,"y":0.005,"f":0.003},{"s":5,"t":860,"y":0.002,"f":0.003},{"s":5,"t":880,"y":-0.001,"f":0.003},{"s":5,"t":900,"y":0.004,"f":0.003},
{"s":6,"t":0,"y":0,"f":0},{"s":6,"t":20,"y":-0.006,"f":0.003},{"s":6,"t":40,"y":0.008,"f":0.006},{"s":6,"t":60,"y":0.004,"f":0.008},{"s":6,"t":80,"y":0.015,"f":0.01},{"s":6,"t":100,"y":0.009,"f":0.012},{"s":6,"t":120,"y":0.017,"f":0.013},{"s":6,"t":140,"y":0.011,"f":0.014},{"s":6,"t":160,"y":0.019,"f":0.015},{"s":6,"t":180,"y":0.013,"f":0.016},{"s":6,"t":200,"y":0.021,"f":0.017},{"s":6,"t":220,"y":0.014,"f":0.017},{"s":6,"t":240,"y":0.022,"f":0.018},{"s":6,"t":260,"y":0.016,"f":0.018},{"s":6,"t":280,"y":0.02,"f":0.019},{"s":6,"t":300,"y":0.018,"f":0.019},{"s":6,"t":320,"y":0.017,"f":0.015},{"s":6,"t":340,"y":0.01,"f":0.013},{"s":6,"t":360,"y":0.014,"f":0.011},{"s":6,"t":380,"y":0.006,"f":0.009},{"s":6,"t":400,"y":0.011,"f":0.008},{"s":6,"t":420,"y":0.003,"f":0.007},{"s":6,"t":440,"y":0.009,"f":0.006},{"s":6,"t":460,"y":0,"f":0.005},{"s":6,"t":480,"y":0.007,"f":0.005},{"s":6,"t":500,"y":0.002,"f":0.004},{"s":6,"t":520,"y":0.005,"f":0.004},{"s":6,"t":540,"y":-0.002,"f":0.004},{"s":6,"t":560,"y":0.006,"f":0.003},{"s":6,"t":580,"y":0.001,"f":0.003},{"s":6,"t":600,"y":-0.003,"f":0.003},{"s":6,"t":620,"y":0.004,"f":0.003},{"s":6,"t":640,"y":-0.001,"f":0.003},{"s":6,"t":660,"y":0.005,"f":0.003},{"s":6,"t":680,"y":0,"f":0.003},{"s":6,"t":700,"y":-0.004,"f":0.003},{"s":6,"t":720,"y":0.003,"f":0.003},{"s":6,"t":740,"y":0.001,"f":0.003},{"s":6,"t":760,"y":-0.002,"f":0.003},{"s":6,"t":780,"y":0.005,"f":0.003},{"s":6,"t":800,"y":0,"f":0.003},{"s":6,"t":820,"y":-0.003,"f":0.003},{"s":6,"t":840,"y":0.004,"f":0.003},{"s":6,"t":860,"y":-0.001,"f":0.003},{"s":6,"t":880,"y":0.002,"f":0.003},{"s":6,"t":900,"y":0.003,"f":0.003}
],
"n":[
{"s":1,"t":0,"y":0,"f":0},{"s":1,"t":20,"y":0.05,"f":0.055},{"s":1,"t":40,"y":0.108,"f":0.102},{"s":1,"t":60,"y":0.139,"f":0.143},{"s":1,"t":80,"y":0.186,"f":0.178},{"s":1,"t":100,"y":0.203,"f":0.208},{"s":1,"t":120,"y":0.24,"f":0.234},{"s":1,"t":140,"y":0.252,"f":0.256},{"s":1,"t":160,"y":0.283,"f":0.275},{"s":1,"t":180,"y":0.288,"f":0.292},{"s":1,"t":200,"y":0.313,"f":0.306},{"s":1,"t":220,"y":0.316,"f":0.318},{"s":1,"t":240,"y":0.336,"f":0.329},{"s":1,"t":260,"y":0.334,"f":0.338},{"s":1,"t":280,"y":0.35,"f":0.345},{"s":1,"t":300,"y":0.354,"f":0.352},{"s":1,"t":320,"y":0.336,"f":0.334},{"s":1,"t":340,"y":0.322,"f":0.316},{"s":1,"t":360,"y":0.296,"f":0.3},{"s":1,"t":380,"y":0.289,"f":0.284},{"s":1,"t":400,"y":0.266,"f":0.27},{"s":1,"t":420,"y":0.262,"f":0.256},{"s":1,"t":440,"y":0.238,"f":0.243},{"s":1,"t":460,"y":0.236,"f":0.231},{"s":1,"t":480,"y":0.214,"f":0.219},{"s":1,"t":500,"y":0.213,"f":0.208},{"s":1,"t":520,"y":0.193,"f":0.198},{"s":1,"t":540,"y":0.194,"f":0.188},{"s":1,"t":560,"y":0.174,"f":0.179},{"s":1,"t":580,"y":0.176,"f":0.17},{"s":1,"t":600,"y":0.158,"f":0.162},{"s":1,"t":620,"y":0.16,"f":0.154},{"s":1,"t":640,"y":0.142,"f":0.147},{"s":1,"t":660,"y":0.15,"f":0.14},{"s":1,"t":680,"y":0.137,"f":0.134},{"s":1,"t":700,"y":0.135,"f":0.128},{"s":1,"t":720,"y":0.128,"f":0.122},{"s":1,"t":740,"y":0.121,"f":0.116},{"s":1,"t":760,"y":0.12,"f":0.111},{"s":1,"t":780,"y":0.11,"f":0.106},{"s":1,"t":800,"y":0.111,"f":0.102},{"s":1,"t":820,"y":0.101,"f":0.097},{"s":1,"t":840,"y":0.103,"f":0.093},{"s":1,"t":860,"y":0.094,"f":0.09},{"s":1,"t":880,"y":0.097,"f":0.086},{"s":1,"t":900,"y":0.088,"f":0.082},
{"s":2,"t":0,"y":0,"f":0},{"s":2,"t":20,"y":0.022,"f":0.028},{"s":2,"t":40,"y":0.06,"f":0.053},{"s":2,"t":60,"y":0.071,"f":0.075},{"s":2,"t":80,"y":0.103,"f":0.096},{"s":2,"t":100,"y":0.11,"f":0.114},{"s":2,"t":120,"y":0.138,"f":0.131},{"s":2,"t":140,"y":0.141,"f":0.146},{"s":2,"t":160,"y":0.167,"f":0.16},{"s":2,"t":180,"y":0.168,"f":0.172},{"s":2,"t":200,"y":0.19,"f":0.183},{"s":2,"t":220,"y":0.188,"f":0.193},{"s":2,"t":240,"y":0.209,"f":0.202},{"s":2,"t":260,"y":0.206,"f":0.211},{"s":2,"t":280,"y":0.224,"f":0.218},{"s":2,"t":300,"y":0.229,"f":0.225},{"s":2,"t":320,"y":0.21,"f":0.213},{"s":2,"t":340,"y":0.206,"f":0.202},{"s":2,"t":360,"y":0.186,"f":0.192},{"s":2,"t":380,"y":0.186,"f":0.182},{"s":2,"t":400,"y":0.166,"f":0.172},{"s":2,"t":420,"y":0.167,"f":0.164},{"s":2,"t":440,"y":0.15,"f":0.155},{"s":2,"t":460,"y":0.15,"f":0.147},{"s":2,"t":480,"y":0.135,"f":0.14},{"s":2,"t":500,"y":0.136,"f":0.133},{"s":2,"t":520,"y":0.12,"f":0.126},{"s":2,"t":540,"y":0.124,"f":0.12},{"s":2,"t":560,"y":0.108,"f":0.114},{"s":2,"t":580,"y":0.113,"f":0.109},{"s":2,"t":600,"y":0.098,"f":0.104},{"s":2,"t":620,"y":0.103,"f":0.099},{"s":2,"t":640,"y":0.089,"f":0.094},{"s":2,"t":660,"y":0.094,"f":0.09},{"s":2,"t":680,"y":0.08,"f":0.085},{"s":2,"t":700,"y":0.086,"f":0.082},{"s":2,"t":720,"y":0.073,"f":0.078},{"s":2,"t":740,"y":0.078,"f":0.074},{"s":2,"t":760,"y":0.067,"f":0.071},{"s":2,"t":780,"y":0.072,"f":0.068},{"s":2,"t":800,"y":0.061,"f":0.065},{"s":2,"t":820,"y":0.066,"f":0.062},{"s":2,"t":840,"y":0.056,"f":0.06},{"s":2,"t":860,"y":0.061,"f":0.057},{"s":2,"t":880,"y":0.051,"f":0.055},{"s":2,"t":900,"y":0.056,"f":0.053},
{"s":3,"t":0,"y":0,"f":0},{"s":3,"t":20,"y":0.006,"f":0.011},{"s":3,"t":40,"y":0.027,"f":0.021},{"s":3,"t":60,"y":0.026,"f":0.031},{"s":3,"t":80,"y":0.047,"f":0.04},{"s":3,"t":100,"y":0.044,"f":0.049},{"s":3,"t":120,"y":0.065,"f":0.058},{"s":3,"t":140,"y":0.062,"f":0.067},{"s":3,"t":160,"y":0.082,"f":0.075},{"s":3,"t":180,"y":0.077,"f":0.082},{"s":3,"t":200,"y":0.097,"f":0.09},{"s":3,"t":220,"y":0.092,"f":0.097},{"s":3,"t":240,"y":0.111,"f":0.104},{"s":3,"t":260,"y":0.106,"f":0.111},{"s":3,"t":280,"y":0.124,"f":0.117},{"s":3,"t":300,"y":0.127,"f":0.123},{"s":3,"t":320,"y":0.121,"f":0.117},{"s":3,"t":340,"y":0.106,"f":0.111},{"s":3,"t":360,"y":0.11,"f":0.105},{"s":3,"t":380,"y":0.094,"f":0.099},{"s":3,"t":400,"y":0.099,"f":0.094},{"s":3,"t":420,"y":0.083,"f":0.089},{"s":3,"t":440,"y":0.09,"f":0.085},{"s":3,"t":460,"y":0.076,"f":0.081},{"s":3,"t":480,"y":0.082,"f":0.077},{"s":3,"t":500,"y":0.068,"f":0.073},{"s":3,"t":520,"y":0.074,"f":0.069},{"s":3,"t":540,"y":0.061,"f":0.066},{"s":3,"t":560,"y":0.068,"f":0.063},{"s":3,"t":580,"y":0.055,"f":0.059},{"s":3,"t":600,"y":0.062,"f":0.057},{"s":3,"t":620,"y":0.049,"f":0.054},{"s":3,"t":640,"y":0.056,"f":0.051},{"s":3,"t":660,"y":0.044,"f":0.049},{"s":3,"t":680,"y":0.052,"f":0.047},{"s":3,"t":700,"y":0.04,"f":0.045},{"s":3,"t":720,"y":0.048,"f":0.043},{"s":3,"t":740,"y":0.036,"f":0.041},{"s":3,"t":760,"y":0.044,"f":0.039},{"s":3,"t":780,"y":0.032,"f":0.037},{"s":3,"t":800,"y":0.041,"f":0.036},{"s":3,"t":820,"y":0.029,"f":0.034},{"s":3,"t":840,"y":0.038,"f":0.033},{"s":3,"t":860,"y":0.026,"f":0.031},{"s":3,"t":880,"y":0.035,"f":0.03},{"s":3,"t":900,"y":0.025,"f":0.029},
{"s":4,"t":0,"y":0,"f":0},{"s":4,"t":20,"y":0.013,"f":0.008},{"s":4,"t":40,"y":0.011,"f":0.016},{"s":4,"t":60,"y":0.029,"f":0.023},{"s":4,"t":80,"y":0.025,"f":0.03},{"s":4,"t":100,"y":0.042,"f":0.036},{"s":4,"t":120,"y":0.037,"f":0.042},{"s":4,"t":140,"y":0.054,"f":0.048},{"s":4,"t":160,"y":0.049,"f":0.054},{"s":4,"t":180,"y":0.065,"f":0.059},{"s":4,"t":200,"y":0.059,"f":0.064},{"s":4,"t":220,"y":0.075,"f":0.069},{"s":4,"t":240,"y":0.07,"f":0.074},{"s":4,"t":260,"y":0.084,"f":0.078},{"s":4,"t":280,"y":0.079,"f":0.082},{"s":4,"t":300,"y":0.088,"f":0.086},{"s":4,"t":320,"y":0.085,"f":0.082},{"s":4,"t":340,"y":0.072,"f":0.077},{"s":4,"t":360,"y":0.078,"f":0.073},{"s":4,"t":380,"y":0.064,"f":0.069},{"s":4,"t":400,"y":0.071,"f":0.066},{"s":4,"t":420,"y":0.058,"f":0.063},{"s":4,"t":440,"y":0.064,"f":0.059},{"s":4,"t":460,"y":0.052,"f":0.056},{"s":4,"t":480,"y":0.059,"f":0.054},{"s":4,"t":500,"y":0.046,"f":0.051},{"s":4,"t":520,"y":0.053,"f":0.048},{"s":4,"t":540,"y":0.041,"f":0.046},{"s":4,"t":560,"y":0.049,"f":0.044},{"s":4,"t":580,"y":0.037,"f":0.042},{"s":4,"t":600,"y":0.045,"f":0.04},{"s":4,"t":620,"y":0.033,"f":0.038},{"s":4,"t":640,"y":0.041,"f":0.036},{"s":4,"t":660,"y":0.029,"f":0.034},{"s":4,"t":680,"y":0.038,"f":0.033},{"s":4,"t":700,"y":0.026,"f":0.031},{"s":4,"t":720,"y":0.035,"f":0.03},{"s":4,"t":740,"y":0.023,"f":0.028},{"s":4,"t":760,"y":0.032,"f":0.027},{"s":4,"t":780,"y":0.021,"f":0.026},{"s":4,"t":800,"y":0.03,"f":0.025},{"s":4,"t":820,"y":0.019,"f":0.024},{"s":4,"t":840,"y":0.028,"f":0.023},{"s":4,"t":860,"y":0.017,"f":0.022},{"s":4,"t":880,"y":0.026,"f":0.021},{"s":4,"t":900,"y":0.018,"f":0.02},
{"s":5,"t":0,"y":0,"f":0},{"s":5,"t":20,"y":-0.004,"f":0.005},{"s":5,"t":40,"y":0.014,"f":0.008},{"s":5,"t":60,"y":0.006,"f":0.012},{"s":5,"t":80,"y":0.021,"f":0.015},{"s":5,"t":100,"y":0.013,"f":0.018},{"s":5,"t":120,"y":0.027,"f":0.02},{"s":5,"t":140,"y":0.017,"f":0.022},{"s":5,"t":160,"y":0.03,"f":0.024},{"s":5,"t":180,"y":0.021,"f":0.026},{"s":5,"t":200,"y":0.034,"f":0.028},{"s":5,"t":220,"y":0.024,"f":0.029},{"s":5,"t":240,"y":0.036,"f":0.03},{"s":5,"t":260,"y":0.026,"f":0.031},{"s":5,"t":280,"y":0.037,"f":0.032},{"s":5,"t":300,"y":0.035,"f":0.033},{"s":5,"t":320,"y":0.036,"f":0.031},{"s":5,"t":340,"y":0.025,"f":0.03},{"s":5,"t":360,"y":0.033,"f":0.028},{"s":5,"t":380,"y":0.021,"f":0.027},{"s":5,"t":400,"y":0.03,"f":0.025},{"s":5,"t":420,"y":0.018,"f":0.024},{"s":5,"t":440,"y":0.028,"f":0.023},{"s":5,"t":460,"y":0.016,"f":0.022},{"s":5,"t":480,"y":0.026,"f":0.021},{"s":5,"t":500,"y":0.014,"f":0.02},{"s":5,"t":520,"y":0.024,"f":0.019},{"s":5,"t":540,"y":0.012,"f":0.018},{"s":5,"t":560,"y":0.022,"f":0.017},{"s":5,"t":580,"y":0.011,"f":0.016},{"s":5,"t":600,"y":0.02,"f":0.015},{"s":5,"t":620,"y":0.009,"f":0.015},{"s":5,"t":640,"y":0.019,"f":0.014},{"s":5,"t":660,"y":0.008,"f":0.013},{"s":5,"t":680,"y":0.018,"f":0.013},{"s":5,"t":700,"y":0.007,"f":0.012},{"s":5,"t":720,"y":0.016,"f":0.011},{"s":5,"t":740,"y":0.006,"f":0.011},{"s":5,"t":760,"y":0.015,"f":0.01},{"s":5,"t":780,"y":0.005,"f":0.01},{"s":5,"t":800,"y":0.014,"f":0.01},{"s":5,"t":820,"y":0.004,"f":0.009},{"s":5,"t":840,"y":0.013,"f":0.009},{"s":5,"t":860,"y":0.004,"f":0.008},{"s":5,"t":880,"y":0.012,"f":0.008},{"s":5,"t":900,"y":0.003,"f":0.008},
{"s":6,"t":0,"y":0,"f":0},{"s":6,"t":20,"y":0.007,"f":0.002},{"s":6,"t":40,"y":-0.004,"f":0.004},{"s":6,"t":60,"y":0.012,"f":0.006},{"s":6,"t":80,"y":0.002,"f":0.007},{"s":6,"t":100,"y":0.015,"f":0.009},{"s":6,"t":120,"y":0.004,"f":0.01},{"s":6,"t":140,"y":0.017,"f":0.011},{"s":6,"t":160,"y":0.007,"f":0.012},{"s":6,"t":180,"y":0.019,"f":0.013},{"s":6,"t":200,"y":0.008,"f":0.014},{"s":6,"t":220,"y":0.021,"f":0.015},{"s":6,"t":240,"y":0.01,"f":0.015},{"s":6,"t":260,"y":0.022,"f":0.016},{"s":6,"t":280,"y":0.012,"f":0.017},{"s":6,"t":300,"y":0.02,"f":0.017},{"s":6,"t":320,"y":0.012,"f":0.016},{"s":6,"t":340,"y":0.02,"f":0.015},{"s":6,"t":360,"y":0.009,"f":0.015},{"s":6,"t":380,"y":0.018,"f":0.014},{"s":6,"t":400,"y":0.007,"f":0.013},{"s":6,"t":420,"y":0.017,"f":0.013},{"s":6,"t":440,"y":0.005,"f":0.012},{"s":6,"t":460,"y":0.016,"f":0.012},{"s":6,"t":480,"y":0.004,"f":0.011},{"s":6,"t":500,"y":0.015,"f":0.011},{"s":6,"t":520,"y":0.003,"f":0.01},{"s":6,"t":540,"y":0.014,"f":0.01},{"s":6,"t":560,"y":0.002,"f":0.01},{"s":6,"t":580,"y":0.013,"f":0.009},{"s":6,"t":600,"y":0.001,"f":0.009},{"s":6,"t":620,"y":0.012,"f":0.009},{"s":6,"t":640,"y":0.001,"f":0.008},{"s":6,"t":660,"y":0.011,"f":0.008},{"s":6,"t":680,"y":0,"f":0.008},{"s":6,"t":700,"y":0.01,"f":0.007},{"s":6,"t":720,"y":0,"f":0.007},{"s":6,"t":740,"y":0.01,"f":0.007},{"s":6,"t":760,"y":-0.001,"f":0.007},{"s":6,"t":780,"y":0.009,"f":0.006},{"s":6,"t":800,"y":0,"f":0.006},{"s":6,"t":820,"y":0.009,"f":0.006},{"s":6,"t":840,"y":-0.001,"f":0.006},{"s":6,"t":860,"y":0.008,"f":0.006},{"s":6,"t":880,"y":0,"f":0.005},{"s":6,"t":900,"y":0.007,"f":0.005}
]
},
"spacing":7.5,
"vconcat":[
{"spacing":49,"hconcat":[
{"title":{"text":"Cetuximab: EGFR","dx":-30,"offset":12.5},"width":946,"height":290,"data":{"name":"c"},
"encoding":{"x":{"field":"t","type":"quantitative","scale":{"domain":[0,900],"nice":false,"zero":false},"axis":{"title":"time (sec)","tickCount":90,"labelExpr":"datum.value % 50 === 0 ? format(datum.value,'d') : ''","tickSize":{"condition":{"test":"datum.value % 50 === 0","value":6},"value":5}}}},
"layer":[
{"mark":{"type":"line","color":"#7f3dff","strokeWidth":1.7},"encoding":{"y":{"field":"y","type":"quantitative","scale":{"domain":[-0.0128,0.727],"nice":false,"zero":false},"axis":{"title":"shift (nm)","tickCount":74,"grid":true,"labelExpr":"datum.value > -0.001 && abs(datum.value*20-round(datum.value*20)) < 0.01 ? format(datum.value,'.2f') : ''","gridOpacity":{"condition":{"test":"datum.value > -0.001 && abs(datum.value*20-round(datum.value*20)) < 0.01","value":1},"value":0}}},"detail":{"field":"s"}}},
{"transform":[{"filter":"isValid(datum.f)"}],"mark":{"type":"line","color":"#ff2b2b","strokeWidth":1.4},"encoding":{"y":{"field":"f","type":"quantitative","title":"shift (nm)"},"detail":{"field":"s"}}},
{"data":{"values":[{"t":300,"lo":0.02,"hi":0.727}]},"mark":{"type":"rule","color":"#ff2b2b","strokeWidth":1.8,"strokeDash":[11,7]},"encoding":{"y":{"field":"lo","type":"quantitative","title":"shift (nm)"},"y2":{"field":"hi"}}}
]},
{"title":{"text":"Zalutumumab: EGFR","dx":-24,"offset":12.5},"width":946,"height":292,"data":{"name":"z"},
"encoding":{"x":{"field":"t","type":"quantitative","scale":{"domain":[0,900],"nice":false,"zero":false},"axis":{"title":"time (sec)","tickCount":90,"labelExpr":"datum.value % 50 === 0 ? format(datum.value,'d') : ''","labelAlign":{"condition":{"test":"datum.value === 900","value":"right"},"value":"center"},"tickSize":{"condition":{"test":"datum.value % 50 === 0","value":6},"value":5}}}},
"layer":[
{"mark":{"type":"line","color":"#ffa935","strokeWidth":1.6},"encoding":{"y":{"field":"y","type":"quantitative","scale":{"domain":[-0.013,1.038],"nice":false,"zero":false},"axis":{"title":"shift (nm)","tickCount":52,"grid":true,"labelExpr":"abs(datum.value*10-round(datum.value*10)) < 0.01 ? format(datum.value,'.1f') : ''","gridOpacity":{"condition":{"test":"abs(datum.value*10-round(datum.value*10)) < 0.01","value":1},"value":0}}},"detail":{"field":"s"}}},
{"transform":[{"filter":"isValid(datum.f)"}],"mark":{"type":"line","color":"#ff2b2b","strokeWidth":1.4},"encoding":{"y":{"field":"f","type":"quantitative","title":"shift (nm)"},"detail":{"field":"s"}}},
{"data":{"values":[{"t":300,"lo":0.05,"hi":1.038}]},"mark":{"type":"rule","color":"#ff2b2b","strokeWidth":1.8,"strokeDash":[11,7]},"encoding":{"y":{"field":"lo","type":"quantitative","title":"shift (nm)"},"y2":{"field":"hi"}}}
]}
]},
{"spacing":58,"hconcat":[
{"title":{"text":"Matuzumab: EGFR","dx":-31,"offset":62},"width":946,"height":295,"data":{"name":"m"},
"encoding":{"x":{"field":"t","type":"quantitative","scale":{"domain":[0,900],"nice":false,"zero":false},"axis":{"title":"time (sec)","tickCount":90,"labelExpr":"datum.value % 50 === 0 ? format(datum.value,'d') : ''","tickSize":{"condition":{"test":"datum.value % 50 === 0","value":6},"value":5}}}},
"layer":[
{"mark":{"type":"line","color":"#8dc63f","strokeWidth":1.6},"encoding":{"y":{"field":"y","type":"quantitative","scale":{"domain":[-0.0229,0.427],"nice":false,"zero":false},"axis":{"title":"shift (nm)","tickCount":45,"grid":true,"labelExpr":"datum.value > -0.001 && abs(datum.value*20-round(datum.value*20)) < 0.01 ? format(datum.value,'.2f') : ''","gridOpacity":{"condition":{"test":"datum.value > -0.001 && abs(datum.value*20-round(datum.value*20)) < 0.01","value":1},"value":0}}},"detail":{"field":"s"}}},
{"mark":{"type":"line","color":"#ff2b2b","strokeWidth":1.4},"encoding":{"y":{"field":"f","type":"quantitative","title":"shift (nm)"},"detail":{"field":"s"}}},
{"data":{"values":[{"t":300,"lo":0,"hi":0.427}]},"mark":{"type":"rule","color":"#ff2b2b","strokeWidth":1.8,"strokeDash":[11,7]},"encoding":{"y":{"field":"lo","type":"quantitative","title":"shift (nm)"},"y2":{"field":"hi"}}}
]},
{"title":{"text":"Nimotuzumab: EGFR","dx":-39,"offset":62},"width":938,"height":284,"data":{"name":"n"},
"encoding":{"x":{"field":"t","type":"quantitative","scale":{"domain":[0,892],"nice":false,"zero":false},"axis":{"title":"time (sec)","tickCount":89,"labelExpr":"datum.value % 50 === 0 ? format(datum.value,'d') : ''","tickSize":{"condition":{"test":"datum.value % 50 === 0","value":6},"value":5}}}},
"layer":[
{"mark":{"type":"line","color":"#33a9a8","strokeWidth":1.6,"clip":true},"encoding":{"y":{"field":"y","type":"quantitative","scale":{"domain":[-0.0069,0.387],"nice":false,"zero":false},"axis":{"title":"shift (nm)","tickCount":39,"grid":true,"labelExpr":"datum.value > -0.001 && abs(datum.value*20-round(datum.value*20)) < 0.01 ? format(datum.value,'.2f') : ''","gridOpacity":{"condition":{"test":"datum.value > -0.001 && abs(datum.value*20-round(datum.value*20)) < 0.01","value":1},"value":0}}},"detail":{"field":"s"}}},
{"mark":{"type":"line","color":"#ff2b2b","strokeWidth":1.4,"clip":true},"encoding":{"y":{"field":"f","type":"quantitative","title":"shift (nm)"},"detail":{"field":"s"}}},
{"data":{"values":[{"t":300,"lo":0.008,"hi":0.387}]},"mark":{"type":"rule","color":"#ff2b2b","strokeWidth":1.8,"strokeDash":[11,7]},"encoding":{"y":{"field":"lo","type":"quantitative","title":"shift (nm)"},"y2":{"field":"hi"}}}
]}
]}
]
}
